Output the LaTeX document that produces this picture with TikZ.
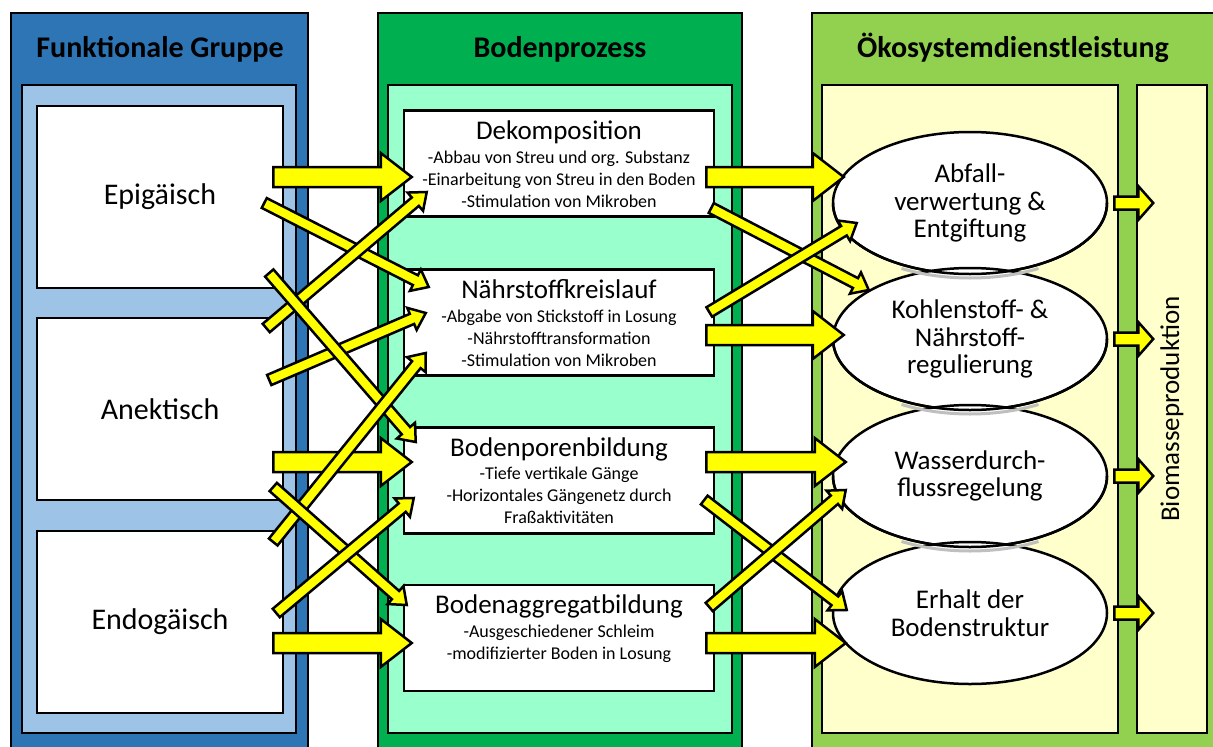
\documentclass[tikz,border=0pt]{standalone}
\usepackage{fontspec}
\setmainfont{Carlito}
\usetikzlibrary{calc,shapes.geometric,positioning}
\definecolor{grpdark}{HTML}{2E75B6}
\definecolor{grplight}{HTML}{9DC3E6}
\definecolor{procdark}{HTML}{00B050}
\definecolor{proclight}{HTML}{99FFCC}
\definecolor{servdark}{HTML}{92D050}
\definecolor{servlight}{HTML}{FFFFCC}
\definecolor{arrowyellow}{HTML}{FFFF00}

\newcommand\yarrow[5]{%
  \coordinate (ya-s) at (#1);
  \coordinate (ya-t) at (#2);
  \coordinate (ya-h) at ($(ya-t)!#5!(ya-s)$);
  \filldraw[yarrowstyle] ($(ya-s)!#3!90:(ya-t)$) -- ($(ya-h)!#3!90:(ya-t)$)
    -- ($(ya-h)!#4!90:(ya-t)$) -- (ya-t) -- ($(ya-h)!#4!-90:(ya-t)$)
    -- ($(ya-h)!#3!-90:(ya-t)$) -- ($(ya-s)!#3!-90:(ya-t)$) -- cycle;
}
\newcommand\bigyarrow[2]{\yarrow{#1}{#2}{10pt}{24pt}{31pt}}
\newcommand\thinyarrow[2]{\yarrow{#1}{#2}{5.5pt}{12pt}{15pt}}
\newcommand\smallyarrow[2]{\yarrow{#1}{#2}{6.5pt}{17pt}{15pt}}

\begin{document}
\begin{tikzpicture}[x=1pt, y=-1pt,
  panel/.style={draw=black, line width=2.5pt},
  paneltitle/.style={font=\bfseries\fontsize{30}{36}\selectfont, anchor=base},
  grpbox/.style={draw=black, fill=white, line width=2.5pt, minimum width=246pt, minimum height=182pt, font=\fontsize{30}{36}\selectfont},
  procbox/.style={draw=black, fill=white, line width=2.5pt, minimum width=310pt, minimum height=106pt},
  proctitle/.style={font=\fontsize{27}{30}\selectfont, inner sep=0pt, anchor=base},
  proclines/.style={font=\fontsize{18}{22}\selectfont, align=center, inner sep=0pt, anchor=base},
  service/.style={ellipse, draw=black, fill=white, line width=2.5pt, minimum width=274pt, minimum height=142pt, inner sep=1pt, align=center, font=\fontsize{27}{27.5}\selectfont},
  shadowline/.style={draw=black!25, line width=3pt},
  yarrowstyle/.style={fill=arrowyellow, draw=black, line width=2.5pt, line join=miter}]
\useasboundingbox (0,0) rectangle (1213,747);

\draw[panel, fill=grpdark] (11,13) rectangle (308,775);
\draw[panel, fill=grplight] (22,85) rectangle (296,733);
\draw[panel, fill=procdark] (378,13) rectangle (742,775);
\draw[panel, fill=proclight] (388,85) rectangle (732,733);
\draw[panel, fill=servdark] (812,13) rectangle (1240,775);
\draw[panel, fill=servlight] (822,85) rectangle (1118,733);

\node[paneltitle] (grp-title) at (160,57) {Funktionale Gruppe};
\node[paneltitle] (proc-title) at (560,57) {Bodenprozess};
\node[paneltitle] (serv-title) at (1013,57) {Ökosystemdienstleistung};

\node[grpbox] (epi) at (160,197) {Epigäisch};
\node[grpbox] (ane) at (160,409) {Anektisch};
\node[grpbox] (endo) at (160,622) {Endogäisch};

\node[procbox] (dek) at (559,163.5) {};
\node[proctitle] (dek-t) at ($(dek.north)+(0,30)$) {Dekomposition};
\node[proclines] (dek-l) at ($(dek.north)+(0,98)$) {-Abbau von Streu und org. Substanz\\-Einarbeitung von Streu in den Boden\\-Stimulation von Mikroben};
\node[procbox] (naehr) at (559,322.5) {};
\node[proctitle] (naehr-t) at ($(naehr.north)+(0,30)$) {Nährstoffkreislauf};
\node[proclines] (naehr-l) at ($(naehr.north)+(0,98)$) {-Abgabe von Stickstoff in Losung\\-Nährstofftransformation\\-Stimulation von Mikroben};
\node[procbox] (poren) at (559,480.5) {};
\node[proctitle] (poren-t) at ($(poren.north)+(0,30)$) {Bodenporenbildung};
\node[proclines] (poren-l) at ($(poren.north)+(0,97)$) {-Tiefe vertikale Gänge\\-Horizontales Gängenetz durch\\Fraßaktivitäten};
\node[procbox] (aggr) at (559,638) {};
\node[proctitle] (aggr-t) at ($(aggr.north)+(0,30)$) {Bodenaggregatbildung};
\node[proclines] (aggr-l) at ($(aggr.north)+(0,76)$) {-Ausgeschiedener Schleim\\-modifizierter Boden in Losung};

\node[service] (abf) at (970,203) {Abfall-\\verwertung \&\\Entgiftung};
\node[service] (kohl) at (970,339) {Kohlenstoff- \&\\Nährstoff-\\regulierung};
\node[service] (wass) at (970,476) {Wasserdurch-\\flussregelung};
\node[service] (erh) at (970,613) {Erhalt der\\Bodenstruktur};
\foreach \e in {abf,kohl,wass} {
  \draw[shadowline] ($(\e.center)+(0,4)$) ++(60:137 and 71) arc[start angle=60, end angle=120, x radius=137, y radius=71];
  \draw[line width=2.5pt] (\e.center) ++(0:137 and 71) arc[start angle=0, end angle=180, x radius=137, y radius=71];
}

\node[draw=black, fill=servlight, line width=2.5pt, rotate=90, minimum width=648pt, minimum height=70pt, font=\fontsize{27}{30}\selectfont] (bio) at (1172,409) {Biomasseproduktion};

\bigyarrow{$(epi.east)+(-11,-20)$}{$(dek.west)+(9,13.5)$}
\bigyarrow{$(ane.east)+(-11,53)$}{$(poren.west)+(9,-18.5)$}
\bigyarrow{$(endo.east)+(-11,21)$}{$(aggr.west)+(9,5)$}
\bigyarrow{$(dek.east)+(-9,13.5)$}{$(abf.west)+(12,-26)$}
\bigyarrow{$(naehr.east)+(-9,12.5)$}{$(kohl.west)+(12,-4)$}
\bigyarrow{$(poren.east)+(-9,-18.5)$}{$(wass.west)+(14,-14)$}
\bigyarrow{$(aggr.east)+(-9,5)$}{$(erh.west)+(14,30)$}

\thinyarrow{$(epi.east)+(-20,6)$}{$(naehr.west)+(26,-35.5)$}
\thinyarrow{$(ane.east)+(-18,-81)$}{$(dek.west)+(24,28.5)$}
\thinyarrow{$(ane.east)+(-15,-29)$}{$(naehr.west)+(23,-9.5)$}
\thinyarrow{$(epi.east)+(-15,76)$}{$(poren.west)+(13,-38.5)$}
\thinyarrow{$(endo.east)+(-11,-80)$}{$(naehr.west)+(23,30.5)$}
\thinyarrow{$(ane.east)+(-11,78)$}{$(aggr.west)+(4,-33)$}
\thinyarrow{$(endo.east)+(-8,-9)$}{$(poren.west)+(11,17.5)$}
\thinyarrow{$(dek.east)+(-4,44.5)$}{$(kohl.west)+(37,-49)$}
\thinyarrow{$(naehr.east)+(-6,-10.5)$}{$(abf.west)+(25,20)$}
\thinyarrow{$(poren.east)+(-11,19.5)$}{$(erh.west)+(15,-3)$}
\thinyarrow{$(aggr.east)+(-6,-31)$}{$(wass.west)+(14,14)$}

\foreach \e in {abf,kohl,wass,erh}
  \smallyarrow{$(\e.east)+(6,0)$}{$(\e.east)+(45,0)$};
\end{tikzpicture}
\end{document}
